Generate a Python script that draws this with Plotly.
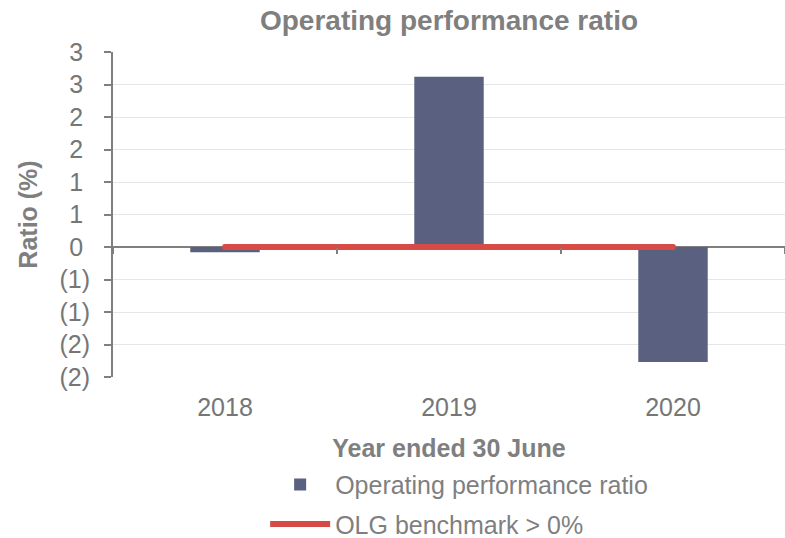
import plotly.graph_objects as go

years = ["2018", "2019", "2020"]
ratio_values = [-0.08, 2.62, -1.77]
benchmark_values = [0, 0, 0]
y_tick_vals = [-2, -1.5, -1, -0.5, 0, 0.5, 1, 1.5, 2, 2.5, 3]
y_tick_text = ["(2)", "(2)", "(1)", "(1)", "0\u00a0", "1\u00a0", "1\u00a0", "2\u00a0", "2\u00a0", "3\u00a0", "3\u00a0"]

grey = "#7f7f7f"
tick_grey = "#767676"
red = "#d64b45"
fig = go.Figure()
fig.add_trace(go.Bar(
    x=years, y=ratio_values, name="Operating performance ratio",
    marker=dict(color="#5a6180", line=dict(width=0)), width=0.31,
    legendgroup="a",
))
fig.add_trace(go.Scatter(
    x=years, y=benchmark_values, name="OLG benchmark > 0%", mode="lines+markers",
    line=dict(color=red, width=6), marker=dict(color=red, size=6),
    legendgroup="b", xaxis="x2",
))
fig.update_layout(
    width=785, height=538,
    margin=dict(l=113, r=0, t=52, b=161),
    paper_bgcolor="white", plot_bgcolor="white",
    font=dict(family="Liberation Sans, Arial", color=grey, size=24),
    title=dict(text="<b>Operating performance ratio</b>", x=0.5, xref="paper",
               y=0.963, yanchor="middle", font=dict(size=28, color=grey)),
    xaxis=dict(
        type="category", showgrid=False, showline=False, range=[-0.5, 2.5],
        ticks="outside", ticklen=8, tickcolor="rgba(0,0,0,0)",
        automargin=False,
        tickfont=dict(size=25, color=tick_grey),
        title=dict(text="<b>Year ended 30 June</b>", font=dict(size=25, color=grey), standoff=22),
    ),
    xaxis2=dict(
        type="category", overlaying="x", anchor="free", position=0.4,
        range=[-0.5, 2.5], showgrid=False, showline=False, showticklabels=False,
        ticks="outside", tickson="boundaries", ticklen=6, tickwidth=1.5,
        tickcolor=grey, automargin=False,
    ),
    yaxis=dict(
        range=[-2, 3], tickvals=y_tick_vals, ticktext=y_tick_text,
        automargin=False,
        showgrid=True, gridcolor="#e6e6e6", gridwidth=1,
        showline=True, linecolor=grey, linewidth=2,
        ticks="outside", ticklen=7, tickcolor=grey, tickwidth=2,
        ticklabelstandoff=9,
        zeroline=True, zerolinecolor=grey, zerolinewidth=2,
        tickfont=dict(size=25, color=tick_grey),
        title=dict(text="<b>Ratio (%)</b>", font=dict(size=25, color=grey), standoff=15),
    ),
    legend=dict(
        orientation="v", x=0.2264, xanchor="left",
        yref="container", y=0.1415, yanchor="top",
        font=dict(size=25, color=grey), traceorder="grouped",
        tracegroupgap=4, itemwidth=60,
    ),
    showlegend=True,
)
fig.write_html("out.html", config={"displayModeBar": False},
               post_script="document.body.style.margin='0';")
